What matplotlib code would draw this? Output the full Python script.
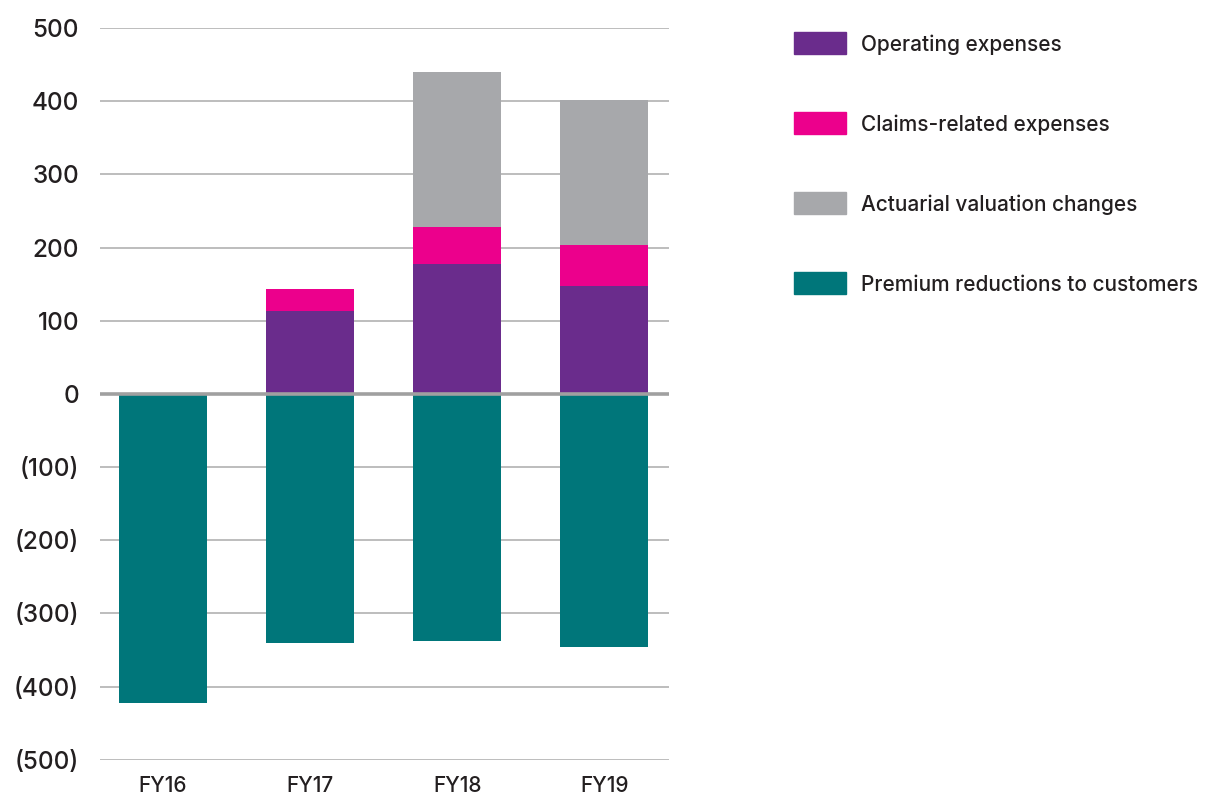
import matplotlib
matplotlib.use("Agg")
import matplotlib.pyplot as plt
from matplotlib.patches import Rectangle
import numpy as np

categories = ['FY16', 'FY17', 'FY18', 'FY19']
operating = [0, 113, 177, 148]
claims = [0, 30, 51, 56]
actuarial = [0, 0, 212, 197]
premium = [-423, -341, -337, -346]

series_names = ['Operating expenses', 'Claims-related expenses',
                'Actuarial valuation changes', 'Premium reductions to customers']
colors = ['#6a2c8c', '#ec008c', '#a7a8ab', '#00767a']

yticks = [500, 400, 300, 200, 100, 0, -100, -200, -300, -400, -500]
ytick_labels = ['500', '400', '300', '200', '100', '0',
                '(100)', '(200)', '(300)', '(400)', '(500)']

plt.rcParams['font.family'] = ['Inter', 'DejaVu Sans']
text_color = '#231f20'

W, H = 1211, 798
fig = plt.figure(figsize=(W / 100, H / 100), dpi=100)
ax = fig.add_axes([100 / W, 1 - 759.8 / H, (669 - 100) / W, (759.8 - 27.95) / H])

x = np.arange(len(categories))
width = 0.6
op = np.array(operating)
cl = np.array(claims)
ac = np.array(actuarial)
pr = np.array(premium)

for yv in yticks:
    if yv != 0:
        ax.axhline(yv, color='#bdbdbd', lw=1.4, zorder=1)

ax.bar(x, pr, width, color=colors[3], zorder=2)
ax.bar(x, op, width, color=colors[0], zorder=2)
ax.bar(x, cl, width, bottom=op, color=colors[1], zorder=2)
ax.bar(x, ac, width, bottom=op + cl, color=colors[2], zorder=2)
ax.axhline(0, color='#a0a0a0', lw=2.6, zorder=3)

ax.set_xlim(-0.429, 3.44)
ax.set_ylim(-500, 500)
ax.set_yticks(yticks)
ax.set_yticklabels(ytick_labels, fontsize=17.5, color=text_color, fontweight='medium')
ax.set_xticks(x)
ax.set_xticklabels(categories, fontsize=15, color=text_color, fontweight='medium')
ax.tick_params(axis='both', length=0)
ax.tick_params(axis='y', pad=15)
ax.tick_params(axis='x', pad=12)
for s in ax.spines.values():
    s.set_visible(False)

# legend
rows_y = [43, 123, 203, 283]
for name, c, yc in zip(series_names, colors, rows_y):
    fig.patches.append(Rectangle((794 / W, 1 - (yc + 11) / H), 52 / W, 22 / H,
                                 transform=fig.transFigure, color=c))
    fig.text(861 / W, 1 - (yc + 2) / H, name, fontsize=15, color=text_color,
             va='center', ha='left', fontweight='medium')

fig.savefig('out.png', dpi=100)
